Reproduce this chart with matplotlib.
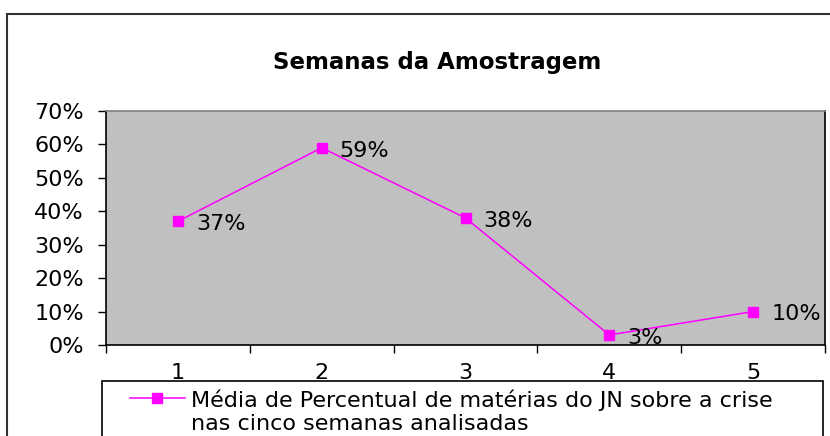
import matplotlib
matplotlib.use('Agg')
import matplotlib.pyplot as plt
from matplotlib.patches import Rectangle
from matplotlib.lines import Line2D
from matplotlib.ticker import PercentFormatter, FixedLocator, NullFormatter

plt.rcParams['font.family'] = ['DejaVu Sans']

semanas = [1, 2, 3, 4, 5]
percentual = [0.37, 0.59, 0.38, 0.03, 0.10]
rotulos = ['37%', '59%', '38%', '3%', '10%']
titulo = 'Semanas da Amostragem'
legenda = 'Média de Percentual de matérias do JN sobre a crise\nnas cinco semanas analisadas'

W, H = 830, 436
fs = 16
fig = plt.figure(figsize=(W / 100, H / 100), dpi=100)
fig.patch.set_facecolor('white')

def fx(px):
    return px / W

def fy(py):
    return 1 - py / H

# outer chart frame (runs off the right and bottom edges)
fig.add_artist(Rectangle((fx(7), fy(460)), fx(860) - fx(7), fy(14) - fy(460),
                         transform=fig.transFigure, fill=False,
                         edgecolor='#333333', linewidth=1.5))

ax = fig.add_axes([fx(106), fy(345), fx(825) - fx(106), fy(111) - fy(345)])
ax.set_facecolor('#c0c0c0')

ax.plot(semanas, percentual, color='#ff00ff', linewidth=1.1,
        marker='s', markersize=7, markeredgecolor='#ff00ff', markerfacecolor='#ff00ff')
for x, y, t in zip(semanas, percentual, rotulos):
    ax.annotate(t, (x, y), xytext=(13, -2), textcoords='offset points',
                ha='left', va='center', fontsize=fs, color='black')

ax.set_xlim(0.5, 5.5)
ax.set_ylim(0, 0.7)
ax.yaxis.set_major_locator(FixedLocator([i / 10 for i in range(8)]))
ax.yaxis.set_major_formatter(PercentFormatter(1.0, decimals=0))
ax.tick_params(axis='y', direction='out', length=6, width=1, pad=10, labelsize=fs)

ax.xaxis.set_major_locator(FixedLocator([s - 0.5 for s in semanas] + [semanas[-1] + 0.5]))
ax.xaxis.set_major_formatter(NullFormatter())
ax.xaxis.set_minor_locator(FixedLocator(semanas))
ax.set_xticklabels([str(s) for s in semanas], minor=True)
ax.tick_params(axis='x', which='major', direction='out', length=6, width=1)
ax.tick_params(axis='x', which='minor', length=0, pad=13, labelsize=fs)

for side in ['left', 'bottom', 'right']:
    ax.spines[side].set_color('black')
    ax.spines[side].set_linewidth(1.2)
ax.spines['top'].set_color('#808080')
ax.spines['top'].set_linewidth(1.2)

fig.text(fx(437), fy(63), titulo, ha='center', va='center',
         fontsize=16.5, fontweight='bold', color='black')

# legend box (bottom runs past the figure edge)
fig.add_artist(Rectangle((fx(102), fy(460)), fx(823) - fx(102), fy(381) - fy(460),
                         transform=fig.transFigure, fill=False,
                         edgecolor='black', linewidth=1.2))
fig.add_artist(Line2D([fx(130), fx(185)], [fy(398), fy(398)], transform=fig.transFigure,
                      color='#ff00ff', linewidth=1.1))
fig.add_artist(Line2D([fx(157)], [fy(398)], transform=fig.transFigure,
                      color='#ff00ff', marker='s', markersize=7, linestyle='none'))
for i, linha in enumerate(legenda.split('\n')):
    fig.text(fx(191), fy(398 + 24 * i), linha, ha='left', va='center_baseline',
             fontsize=fs, color='black')

fig.savefig('out.png', dpi=100)
